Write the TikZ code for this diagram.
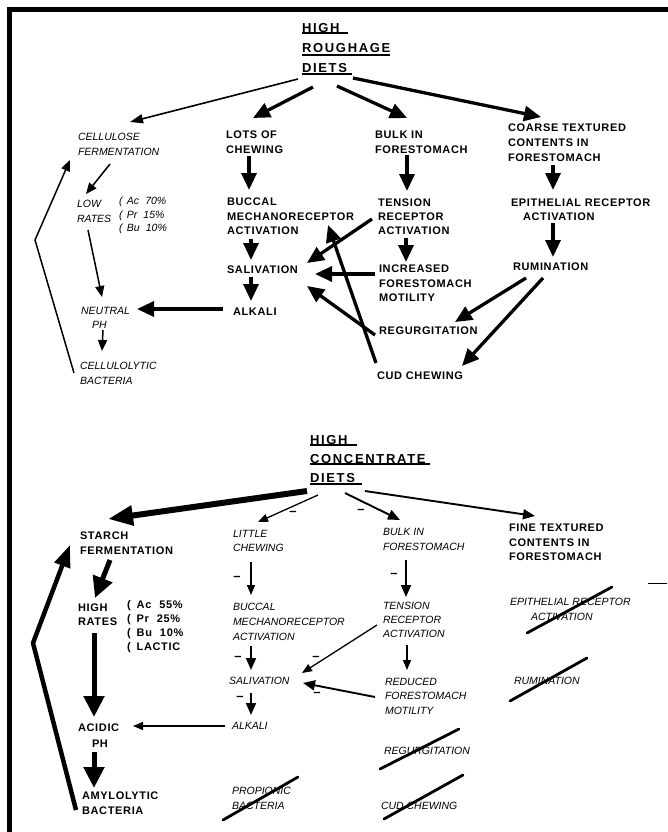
\documentclass[tikz,border=0pt]{standalone}
\usepackage{fontspec}
\setmainfont{Liberation Sans}
\newfontfamily\bfnt{Liberation Sans}[LetterSpace=6]
\newfontfamily\hfnt{Liberation Sans}[LetterSpace=13]
\newfontfamily\ifnt{Liberation Sans}
\usetikzlibrary{arrows.meta}
\tikzset{
  every node/.style={inner sep=0pt, outer sep=0pt, anchor=north west, align=left},
  bt/.style={font={\bfnt\bfseries\fontsize{11}{#1}\selectfont}}, bt/.default=15,
  it/.style={font={\ifnt\itshape\fontsize{10.5}{#1}\selectfont}}, it/.default=15,
  hd/.style={font={\hfnt\bfseries\fontsize{13}{#1}\selectfont}},
  minus/.style={anchor=center, font={\ifnt\bfseries\fontsize{13}{15}\selectfont}},
  uline/.style={line width=1.4pt},
  aBig/.style={line width=3.3pt, -{Triangle[length=17pt,width=15pt]}},
  aMed/.style={line width=1.6pt, -{Triangle[length=13pt,width=9pt]}},
  aLite/.style={line width=1.5pt, line join=miter, -{Triangle[length=11pt,width=9pt]}},
  aFine/.style={line width=1.3pt, -{Triangle[length=10pt,width=8pt]}},
  aMid/.style={line width=1.9pt, -{Triangle[length=12pt,width=10pt]}},
  aHuge/.style={line width=6pt, -{Triangle[length=25pt,width=19pt]}},
  aHeavy/.style={line width=5pt, -{Triangle[length=21pt,width=20pt]}},
  aFeed/.style={line width=4.5pt, line join=round, -{Triangle[length=22pt,width=16pt]}},
  strike/.style={line width=2.8pt, line cap=round},
}
\begin{document}
\begin{tikzpicture}[x=1pt,y=-1pt]
\useasboundingbox (0,0) rectangle (668,832);
\fill[white] (0,0) rectangle (668,832);
\fill[black] (7,7) rectangle (668,12);
\fill[black] (7,7) rectangle (12,832);

%% ---------------- HIGH ROUGHAGE DIETS ----------------
\node[hd=20] (hr) at (302,23) {HIGH\\ROUGHAGE\\DIETS};
\draw[uline] ([shift={(0,10)}]hr.north west) -- ++(46,0);
\draw[uline] ([shift={(0,32)}]hr.north west) -- ++(88,0);
\draw[uline] ([shift={(0,51)}]hr.north west) -- ++(50,0);

\node[it] (cel) at (78,133) {CELLULOSE\\FERMENTATION};
\node[bt] (lots) at (226,131) {LOTS OF\\CHEWING};
\node[bt] (bulk) at (375,131) {BULK IN\\FORESTOMACH};
\node[bt=15] (coarse) at (508,124) {COARSE TEXTURED\\CONTENTS IN\\FORESTOMACH};
\node[it] (low) at (77,200) {LOW\\RATES};
\node[it=13.5] (vfa) at (119,197) {(\hspace{4.5pt}Ac\hspace{6pt}70\%\\(\hspace*{4.5pt}Pr\hspace{6pt}15\%\\(\hspace*{4.5pt}Bu\hspace{6pt}10\%};
\node[bt=14.5] (buc) at (227,198) {BUCCAL\\MECHANORECEPTOR\\ACTIVATION};
\node[bt=14] (ten) at (378,199) {TENSION\\RECEPTOR\\ACTIVATION};
\node[bt=14] (epi) at (511,199) {EPITHELIAL RECEPTOR\\\hspace*{12pt}ACTIVATION};
\node[bt] (sal) at (227,266) {SALIVATION};
\node[bt=14.5] (inc) at (379,265) {INCREASED\\FORESTOMACH\\MOTILITY};
\node[bt] (rum) at (513,263) {RUMINATION};
\node[bt] (alk) at (233,308) {ALKALI};
\node[it=14] (neu) at (81,307) {NEUTRAL\\\hspace*{11pt}PH};
\node[bt] (regt) at (379,327) {REGURGITATION};
\node[bt] (cud) at (377,372) {CUD CHEWING};
\node[it] (cly) at (80,362) {CELLULOLYTIC\\BACTERIA};

\draw[aMed] ([shift={(-4,56)}]hr.north west) -- ([shift={(52,-11)}]cel.north west);
\draw[aBig] ([shift={(11,64)}]hr.north west) -- ([shift={(27,-13)}]lots.north west);
\draw[aBig] ([shift={(35,63)}]hr.north west) -- ([shift={(32,-13)}]bulk.north west);
\draw[aBig] ([shift={(51,55)}]hr.north west) -- ([shift={(33,-7)}]coarse.north west);
\draw[aBig] ([shift={(23,25)}]lots.north west) -- ([shift={(22,-8)}]buc.north west);
\draw[aBig] ([shift={(32,24)}]bulk.north west) -- ([shift={(29,-8)}]ten.north west);
\draw[aBig] ([shift={(45,41)}]coarse.north west) -- ([shift={(42,-9)}]epi.north west);
\draw[aBig] ([shift={(42,24)}]epi.north west) -- ([shift={(40,-6)}]rum.north west);
\draw[aBig] ([shift={(28,39)}]ten.north west) -- ([shift={(27,-3)}]inc.north west);
\draw[aBig] ([shift={(24,41)}]buc.north west) -- ([shift={(24,-6)}]sal.north west);
\draw[aBig] ([shift={(24,11)}]sal.north west) -- ([shift={(18,-7)}]alk.north west);
\draw[aBig] ([shift={(-10,1)}]alk.north west) -- ([shift={(56,2)}]neu.north west);
\draw[aBig] ([shift={(-6,20)}]ten.north west) -- ([shift={(80,-3)}]sal.north west);
\draw[aBig] ([shift={(-4,9)}]inc.north west) -- ([shift={(88,8)}]sal.north west);
\draw[aBig] ([shift={(-4,8)}]regt.north west) -- ([shift={(80,20)}]sal.north west);
\draw[aBig] ([shift={(-1,-9)}]cud.north west) -- ([shift={(101,27)}]buc.north west);
\draw[aBig] ([shift={(13,15)}]rum.north west) -- ([shift={(76,-5)}]regt.north west);
\draw[aBig] ([shift={(30,15)}]rum.north west) -- ([shift={(85,-6)}]cud.north west);
\draw[aLite] ([shift={(32,31)}]cel.north west) -- ([shift={(9,-6)}]low.north west);
\draw[aLite] ([shift={(11,30)}]low.north west) -- ([shift={(21,-10)}]neu.north west);
\draw[aLite] ([shift={(22,23)}]neu.north west) -- ([shift={(22,-11)}]cly.north west);
\coordinate (fbT) at (35,240);
\draw[aLite] ([shift={(-6,11)}]cly.north west) -- (fbT) -- ([shift={(-8,27)}]cel.north west);

%% ---------------- HIGH CONCENTRATE DIETS ----------------
\node[hd=19] (hc) at (310,435) {HIGH\\CONCENTRATE\\DIETS};
\draw[uline] ([shift={(0,10)}]hc.north west) -- ++(47,0);
\draw[uline] ([shift={(0,29)}]hc.north west) -- ++(120,0);
\draw[uline] ([shift={(0,49)}]hc.north west) -- ++(52,0);

\node[bt] (sta) at (80,532) {STARCH\\FERMENTATION};
\node[it=14] (lit) at (233,530) {LITTLE\\CHEWING};
\node[it] (bulk2) at (383,528) {BULK IN\\FORESTOMACH};
\node[bt=14.5] (fine) at (509,524) {FINE TEXTURED\\CONTENTS IN\\FORESTOMACH};
\node[bt=13.5] (hig) at (78,604) {HIGH\\RATES};
\node[bt=14] (vfa2) at (127,601) {(\hspace{6pt}Ac\hspace{8pt}55\%\\(\hspace*{6pt}Pr\hspace{8pt}25\%\\(\hspace*{6pt}Bu\hspace{8pt}10\%\\(\hspace*{6pt}LACTIC};
\node[it] (buc2) at (233,603) {BUCCAL\\MECHANORECEPTOR\\ACTIVATION};
\node[it=14] (ten2) at (383,602) {TENSION\\RECEPTOR\\ACTIVATION};
\node[it=15] (epi2) at (510,598) {EPITHELIAL RECEPTOR\\\hspace*{21pt}ACTIVATION};
\node[it] (sal2) at (229,677) {SALIVATION};
\node[it=14.5] (red) at (385,678) {REDUCED\\FORESTOMACH\\MOTILITY};
\node[it] (rum2) at (514,677) {RUMINATION};
\node[it] (alk2) at (232,722) {ALKALI};
\node[bt=16] (aci) at (78,724) {ACIDIC\\\hspace*{14pt}PH};
\node[it] (reg2) at (384,747) {REGURGITATION};
\node[it] (pro) at (232,787) {PROPIONIC\\BACTERIA};
\node[bt] (amy) at (82,792) {AMYLOLYTIC\\BACTERIA};
\node[it] (cud2) at (381,802) {CUD CHEWING};

\draw[aHuge] ([shift={(-3,56)}]hc.north west) -- ([shift={(28,-13)}]sta.north west);
\draw[aFine] ([shift={(8,60)}]hc.north west) -- ([shift={(25,-8)}]lit.north west);
\draw[aMid] ([shift={(35,58)}]hc.north west) -- ([shift={(17,-8)}]bulk2.north west);
\draw[aMid] ([shift={(55,56)}]hc.north west) -- ([shift={(26,-8)}]fine.north west);
\draw[aFine] ([shift={(18,32)}]lit.north west) -- ([shift={(18,-8)}]buc2.north west);
\draw[aMid] ([shift={(23,32)}]bulk2.north west) -- ([shift={(23,-5)}]ten2.north west);
\draw[aMid] ([shift={(18,43)}]buc2.north west) -- ([shift={(22,-7)}]sal2.north west);
\draw[aMid] ([shift={(22,16)}]sal2.north west) -- ([shift={(19,-7)}]alk2.north west);
\draw[aFine] ([shift={(-6,23)}]ten2.north west) -- ([shift={(73,-4)}]sal2.north west);
\draw[aMid] ([shift={(-10,19)}]red.north west) -- ([shift={(74,6)}]sal2.north west);
\draw[aFine] ([shift={(24,43)}]ten2.north west) -- ([shift={(22,-8)}]red.north west);
\draw[aFine] ([shift={(-7,4)}]alk2.north west) -- ([shift={(55,2)}]aci.north west);
\draw[aHeavy] ([shift={(30,28)}]sta.north west) -- ([shift={(17,-6)}]hig.north west);
\draw[aHeavy] ([shift={(16,29)}]hig.north west) -- ([shift={(16,-7)}]aci.north west);
\draw[aHeavy] ([shift={(16,28)}]aci.north west) -- ([shift={(12,-4)}]amy.north west);
\coordinate (fbB) at (33,643);
\draw[aFeed] ([shift={(-6,18)}]amy.north west) -- (fbB) -- ([shift={(-10,13)}]sta.north west);

\node[minus] (m1) at (293,513.5) {–};
\node[minus] (m2) at (361,511.5) {–};
\node[minus] (m3) at (237,578.5) {–};
\node[minus] (m4) at (394,575.5) {–};
\node[minus] (m5) at (238,658.5) {–};
\node[minus] (m6) at (240,698.5) {–};
\node[minus] (m7) at (316,658.5) {–};
\node[minus] (m8) at (317,694.5) {–};

\draw[strike] (612,587) -- (527,633);
\draw[strike] (587,658) -- (510,701);
\draw[strike] (459,729) -- (380,769);
\draw[strike] (463,775) -- (384,819);
\draw[strike] (298,777) -- (223,820);
\draw[line width=1pt] (648,583) -- (667,583);
\end{tikzpicture}
\end{document}
